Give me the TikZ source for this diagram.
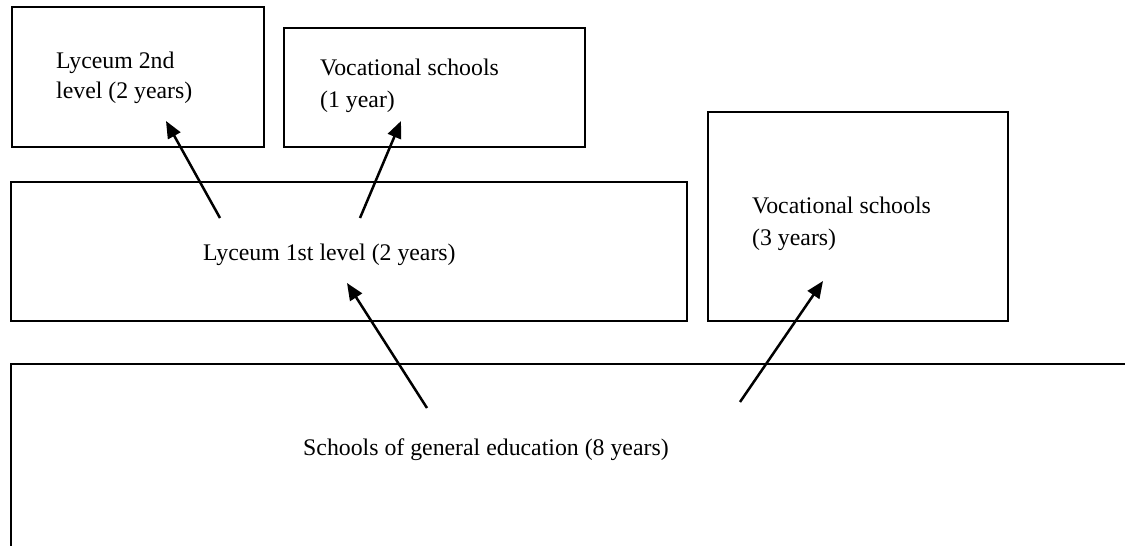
\documentclass[tikz,border=0pt]{standalone}
\usepackage{fontspec}
\setmainfont{Liberation Serif}
\usetikzlibrary{arrows.meta}
\begin{document}
\begin{tikzpicture}[x=1pt,y=-1pt,
  box/.style={draw=black,line width=2pt,rectangle,inner sep=0pt,anchor=north west},
  lbl/.style={inner sep=0pt,anchor=base west,align=left,font=\fontsize{23.8}{31.5}\selectfont},
  arr/.style={line width=2.5pt,-{Triangle[length=17pt,width=14pt]}}]
\useasboundingbox (0,0) rectangle (1125,546);
\fill[white] (0,0) rectangle (1125,546);
\begin{scope}
\clip (0,0) rectangle (1125,546);
% boxes
\node[box,minimum width=252pt,minimum height=140pt] (A) at (11,6) {};
\node[box,minimum width=301pt,minimum height=119pt] (B) at (283,27) {};
\node[box,minimum width=676pt,minimum height=139pt] (C) at (10,181) {};
\node[box,minimum width=300pt,minimum height=209pt] (D) at (707,111) {};
\node[box,minimum width=1135pt,minimum height=200pt] (E) at (10,363) {};
\end{scope}
% texts (base anchor = baseline of the last line)
\node[lbl,font=\fontsize{23.8}{30.5}\selectfont] (tA) at (56,98.5) {Lyceum 2nd\\level (2 years)};
\node[lbl] (tB) at (320,107) {Vocational schools\\(1 year)};
\node[lbl] (tC) at (203,260) {Lyceum 1st level (2 years)};
\node[lbl] (tD) at (752,245) {Vocational schools\\(3 years)};
\node[lbl] (tE) at (303,455) {Schools of general education (8 years)};
% arrow ends
\coordinate (c1s) at (220,218); \coordinate (c1e) at (166,121);
\coordinate (c2s) at (360,218); \coordinate (c2e) at (401,121);
\coordinate (e1s) at (427,408); \coordinate (e1e) at (347,283);
\coordinate (e2s) at (740,402); \coordinate (e2e) at (823,281);
\draw[arr] (c1s) -- (c1e);
\draw[arr] (c2s) -- (c2e);
\draw[arr] (e1s) -- (e1e);
\draw[arr] (e2s) -- (e2e);
\end{tikzpicture}
\end{document}
